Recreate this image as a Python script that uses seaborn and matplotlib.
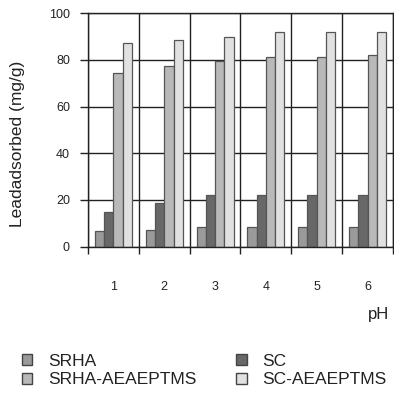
import matplotlib.pyplot as plt
import pandas as pd
import seaborn as sns
from matplotlib.patches import Patch

# values
ph = ['1', '2', '3', '4', '5', '6']
series = ['SRHA', 'SC', 'SRHA-AEAEPTMS', 'SC-AEAEPTMS']
srha = [6.6, 7.1, 8.4, 8.4, 8.4, 8.4]
sc = [14.9, 18.7, 22.0, 22.0, 22.0, 22.0]
srha_ae = [74.2, 77.4, 79.7, 81.4, 81.4, 82.1]
sc_ae = [87.1, 88.4, 89.7, 92.1, 92.1, 92.1]
colors = ['#9a9a9a', '#686868', '#b9b9b9', '#e1e1e1']

df = pd.DataFrame({
    'pH': ph * 4,
    'series': [s for s in series for _ in ph],
    'value': srha + sc + srha_ae + sc_ae,
})

sns.set_style('white')
plt.rcParams['font.family'] = ['Liberation Sans', 'DejaVu Sans']

fig = plt.figure(figsize=(3.94, 3.93), dpi=100)
ax = fig.add_axes([88 / 394, 1 - 246.5 / 393, 305 / 394, 233.2 / 393])

sns.barplot(data=df, x='pH', y='value', hue='series', hue_order=series,
            palette=colors, width=0.73, saturation=1, edgecolor='#555555',
            linewidth=0.9, legend=False, ax=ax)

ax.set_ylim(0, 100)
ax.set_xlim(-0.5, 5.5)
ax.set_yticks(range(0, 101, 20))
ax.set_xticks(range(6))
ax.set_xticklabels(ph)
ax.set_xticks([i - 0.5 for i in range(7)], minor=True)
ax.grid(which='major', axis='y', color='#222222', lw=1.0)
ax.grid(which='minor', axis='x', color='#222222', lw=1.0)
ax.set_axisbelow(True)
for sp in ax.spines.values():
    sp.set_color('#222222')
    sp.set_linewidth(1.0)

ax.tick_params(axis='y', which='major', left=True, length=6, width=1.0,
               color='#222222', labelsize=9, pad=7, labelcolor='#222222')
ax.tick_params(axis='x', which='major', bottom=False, labelsize=9, pad=21,
               labelcolor='#222222')
ax.tick_params(axis='x', which='minor', bottom=True, length=5, width=1.0,
               color='#222222')
ax.set_xlabel('')
ax.set_ylabel('')

fig.text(18 / 394, 1 - 144 / 393, 'Leadadsorbed (mg/g)', rotation=90,
         ha='center', va='center', fontsize=12.5, color='#222222')
fig.text(379 / 394, 1 - 315 / 393, 'pH', ha='center', va='center',
         fontsize=12, color='#222222')

handles = [Patch(facecolor=c, edgecolor='#444444', lw=1.0) for c in colors]
order = [0, 2, 1, 3]
fig.legend([handles[i] for i in order], [series[i] for i in order],
           ncol=2, loc='upper left', bbox_to_anchor=(22 / 394, 1 - 354 / 393),
           frameon=False, fontsize=12.5, handlelength=0.6, handleheight=0.6,
           handletextpad=0.9, labelspacing=0.2, columnspacing=2.3,
           borderpad=0, borderaxespad=0, labelcolor='#222222')

fig.savefig('out.png', dpi=100)
